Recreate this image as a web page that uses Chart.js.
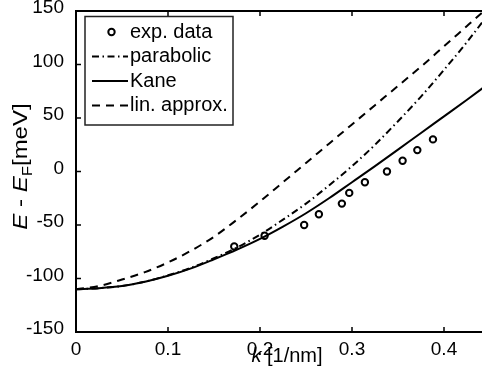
<!DOCTYPE html>
<html>
<head>
<meta charset="utf-8">
<script src="https://cdn.jsdelivr.net/npm/chart.js@4.4.1/dist/chart.umd.min.js"></script>
<style>
  html, body { margin: 0; padding: 0; background: #fff; overflow: hidden; }
  #wrap { position: relative; width: 500px; height: 385px; }
</style>
</head>
<body>
<div id="wrap"><canvas id="c" width="500" height="385"></canvas></div>
<script>
// Wave number grid for the model curves [1/nm]
const kGrid = [0, 0.025, 0.05, 0.075, 0.1, 0.125, 0.15, 0.175, 0.2, 0.225,
               0.25, 0.275, 0.3, 0.325, 0.35, 0.375, 0.4, 0.425, 0.45];
// Model dispersions E - E_F [meV]
const kaneE      = [-110, -109, -107, -103, -97.5, -90.5, -82, -73, -63, -51.5,
                    -39, -25, -10, 5, 20.5, 36, 51.5, 67, 83];
const parabolicE = [-110, -109, -107, -103, -97, -90, -81, -71, -59, -45,
                    -30, -13, 5, 25, 47, 70, 95, 121, 149];
const linApproxE = [-110, -107, -101, -94, -85, -74, -61, -45, -28, -10,
                    8, 26, 44, 62, 80, 98, 117, 136, 155];
// Measured points
const kExp = [0.172, 0.205, 0.248, 0.264, 0.289, 0.297, 0.314, 0.338, 0.355, 0.371, 0.388];
const eExp = [-70, -60, -50, -40, -30, -20, -10, 0, 10, 20, 30];
// Axis ticks
const xTicks = [0, 0.1, 0.2, 0.3, 0.4];
const yTicks = [-150, -100, -50, 0, 50, 100, 150];
const legendLabels = ['exp. data', 'parabolic', 'Kane', 'lin. approx.'];

const FONT = '"Liberation Sans", Arial, Helvetica, sans-serif';
const toXY = (xs, ys) => xs.map((x, i) => ({ x: x, y: ys[i] }));

const lineBase = {
  showLine: true, pointRadius: 0, borderColor: '#000', borderWidth: 2,
  backgroundColor: 'rgba(0,0,0,0)', cubicInterpolationMode: 'monotone', fill: false
};

const datasets = [
  { label: legendLabels[0], data: toXY(kExp, eExp), showLine: false,
    pointRadius: 3.2, pointBorderWidth: 2, borderColor: '#000',
    pointBorderColor: '#000', pointBackgroundColor: 'rgba(0,0,0,0)', pointStyle: 'circle' },
  Object.assign({}, lineBase, { label: legendLabels[1], data: toXY(kGrid, parabolicE), borderDash: [7, 3.5, 1.5, 3.5] }),
  Object.assign({}, lineBase, { label: legendLabels[2], data: toXY(kGrid, kaneE), borderDash: [] }),
  Object.assign({}, lineBase, { label: legendLabels[3], data: toXY(kGrid, linApproxE), borderDash: [8, 6] })
];

// Box frame with inward tick marks, axis titles and legend
const framePlugin = {
  id: 'frame',
  afterDraw(chart) {
    const ctx = chart.ctx;
    const a = chart.chartArea;
    const xs = chart.scales.x, ys = chart.scales.y;
    ctx.save();
    ctx.strokeStyle = '#000';
    ctx.lineWidth = 2;
    ctx.setLineDash([]);
    ctx.beginPath();
    ctx.rect(a.left, a.top, a.right - a.left, a.bottom - a.top);
    ctx.stroke();
    const tl = 5;
    ctx.lineWidth = 1.5;
    ctx.beginPath();
    xTicks.forEach(v => {
      const px = xs.getPixelForValue(v);
      ctx.moveTo(px, a.bottom); ctx.lineTo(px, a.bottom - tl);
      ctx.moveTo(px, a.top); ctx.lineTo(px, a.top + tl);
    });
    yTicks.forEach(v => {
      const py = ys.getPixelForValue(v);
      ctx.moveTo(a.left, py); ctx.lineTo(a.left + tl, py);
      ctx.moveTo(a.right, py); ctx.lineTo(a.right - tl, py);
    });
    ctx.stroke();

    // x-axis title: k [1/nm]
    ctx.fillStyle = '#000';
    ctx.textBaseline = 'alphabetic';
    const fIt = 'italic 20px ' + FONT, fUp = '20px ' + FONT;
    ctx.font = fIt; const wk = ctx.measureText('k').width;
    ctx.font = fUp; const wr = ctx.measureText(' [1/nm]').width;
    const cx = (a.left + a.right) / 2 + 4;
    let x0 = cx - (wk + wr) / 2;
    ctx.textAlign = 'left';
    ctx.font = fIt; ctx.fillText('k', x0, 362);
    ctx.font = fUp; ctx.fillText(' [1/nm]', x0 + wk, 362);

    // y-axis title: E - E_F [meV]
    ctx.save();
    ctx.translate(27, 166.5);
    ctx.rotate(-Math.PI / 2);
    ctx.scale(1.2, 1);
    const parts = [
      { t: 'E', f: 'italic 20px ' + FONT, dy: 0 },
      { t: ' - ', f: '20px ' + FONT, dy: 0 },
      { t: 'E', f: 'italic 20px ' + FONT, dy: 0 },
      { t: 'F', f: '14px ' + FONT, dy: 5 },
      { t: '[meV]', f: '20px ' + FONT, dy: 0 }
    ];
    let total = 0;
    parts.forEach(p => { ctx.font = p.f; p.w = ctx.measureText(p.t).width; total += p.w; });
    let px = -total / 2;
    parts.forEach(p => { ctx.font = p.f; ctx.fillText(p.t, px, p.dy); px += p.w; });
    ctx.restore();

    // legend
    const lx = 85, ly = 16.5, lw = 148, lh = 108.5;
    ctx.fillStyle = '#fff';
    ctx.fillRect(lx, ly, lw, lh);
    ctx.strokeStyle = '#222';
    ctx.lineWidth = 1.5;
    ctx.strokeRect(lx, ly, lw, lh);
    const rows = [32, 56.5, 81, 105.5];
    ctx.font = '20px ' + FONT;
    ctx.textBaseline = 'middle';
    ctx.fillStyle = '#000';
    chart.data.datasets.forEach((ds, i) => {
      const ry = rows[i];
      ctx.strokeStyle = '#000';
      if (ds.showLine === false) {
        ctx.lineWidth = 2;
        ctx.setLineDash([]);
        ctx.beginPath();
        ctx.arc(111.5, ry, 3.2, 0, Math.PI * 2);
        ctx.stroke();
      } else {
        ctx.lineWidth = 2;
        ctx.setLineDash(ds.borderDash || []);
        ctx.beginPath();
        ctx.moveTo(92, ry); ctx.lineTo(128, ry);
        ctx.stroke();
        ctx.setLineDash([]);
      }
      ctx.fillText(ds.label, 130, ry);
    });
    ctx.restore();
  }
};

new Chart(document.getElementById('c'), {
  type: 'scatter',
  data: { datasets: datasets },
  options: {
    responsive: false,
    animation: false,
    devicePixelRatio: 1,
    layout: { padding: { top: 11, right: 10, bottom: 0, left: 0 } },
    plugins: { legend: { display: false }, tooltip: { enabled: false } },
    scales: {
      x: {
        type: 'linear', min: 0, max: 0.45,
        grid: { display: false }, border: { display: false },
        afterBuildTicks: s => { s.ticks = xTicks.map(v => ({ value: v })); },
        afterFit: s => { s.height = 53; s.paddingLeft = 0; s.paddingRight = 0; },
        ticks: { color: '#000', font: { family: FONT, size: 19 }, padding: -2,
                 maxRotation: 0, autoSkip: false, callback: v => String(v) }
      },
      y: {
        type: 'linear', min: -150, max: 150,
        grid: { display: false }, border: { display: false },
        afterBuildTicks: s => { s.ticks = yTicks.map(v => ({ value: v })); },
        afterFit: s => { s.width = 76; s.paddingTop = 0; s.paddingBottom = 0; },
        ticks: { color: '#000', font: { family: FONT, size: 19 }, padding: 4,
                 labelOffset: -3, autoSkip: false, callback: v => String(v) }
      }
    }
  },
  plugins: [framePlugin]
});
</script>
</body>
</html>
